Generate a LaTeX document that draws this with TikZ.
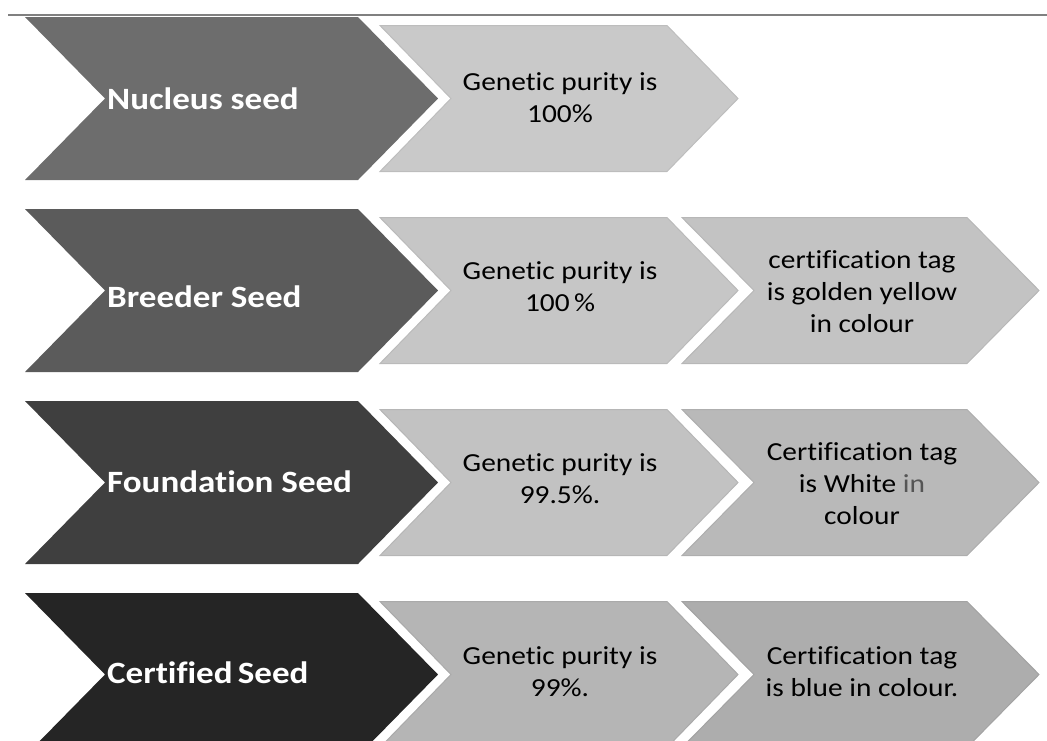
\documentclass[tikz,border=0pt]{standalone}
\usepackage{fontspec}
\setmainfont{Carlito}[FakeStretch=1.13, Ligatures=CommonOff]
\usetikzlibrary{calc}
\definecolor{dA}{HTML}{6D6D6D}
\definecolor{dB}{HTML}{5B5B5B}
\definecolor{dC}{HTML}{3F3F3F}
\definecolor{dD}{HTML}{252525}
\definecolor{lA}{HTML}{C9C9C9}
\definecolor{lB}{HTML}{C6C6C6}
\definecolor{lBB}{HTML}{C3C3C3}
\definecolor{lC}{HTML}{C2C2C2}
\definecolor{lCC}{HTML}{B9B9B9}
\definecolor{lD}{HTML}{B5B5B5}
\definecolor{lDD}{HTML}{ADADAD}
\definecolor{rule}{HTML}{808080}
\definecolor{inGray}{HTML}{555555}
% \chevron{x}{ytop}{width}{height}{depth}{style}
\newcommand{\chevron}[6]{%
  \path[#6] (#1,#2) -- ++(#3,0) -- ++(#5,#4/2) -- ++(-#5,#4/2) -- ++(-#3,0) -- ++(#5,-#4/2) -- cycle;}
\tikzset{
  darkchev/.style={fill=#1},
  lightchev/.style={fill=#1, draw=#1!94!black, line width=1pt, line join=miter},
  seedlabel/.style={anchor=base west, inner sep=0pt, text=white,
    font=\fontsize{31}{37}\selectfont\bfseries},
  infolabel/.style={anchor=center, inner sep=0pt, align=center, text=black,
    font=\fontsize{26}{32}\selectfont}
}
\begin{document}
\begin{tikzpicture}[x=1pt,y=-1pt]
\useasboundingbox (0,0) rectangle (1047,740);
\clip (0,0) rectangle (1047,740);
\draw[rule, line width=2pt] (8,15) -- (1047,15);
% row 1
\chevron{25}{17}{333}{163}{80}{darkchev=dA}
\chevron{380}{25.5}{287}{146}{71}{lightchev=lA}
\node[seedlabel] (s1) at (107,109) {Nucleus seed};
\node[infolabel] (p1) at (560,98) {Genetic purity is\\100\%};
% row 2
\chevron{25}{209}{333}{163}{80}{darkchev=dB}
\chevron{380}{217.5}{287}{146}{71}{lightchev=lB}
\chevron{682}{217.5}{285}{146}{72}{lightchev=lBB}
\node[seedlabel] (s2) at (107,307) {Breeder Seed};
\node[infolabel] (p2) at (560,287) {Genetic purity is\\100\,\%};
\node[infolabel] (t2) at (862,292) {certification tag\\is golden yellow\\in colour};
% row 3
\chevron{25}{401}{333}{163}{80}{darkchev=dC}
\chevron{380}{409.5}{287}{146}{71}{lightchev=lC}
\chevron{682}{409.5}{285}{146}{72}{lightchev=lCC}
\node[seedlabel] (s3) at (107,492) {Foundation Seed};
\node[infolabel] (p3) at (560,479) {Genetic purity is\\99.5\%.};
\node[infolabel] (t3) at (862,484) {Certification tag\\is White {\color{inGray}in}\\colour};
% row 4
\chevron{25}{593}{333}{163}{80}{darkchev=dD}
\chevron{380}{601.5}{287}{146}{71}{lightchev=lD}
\chevron{682}{601.5}{285}{146}{72}{lightchev=lDD}
\node[seedlabel] (s4) at (107,683) {Certified\,Seed};
\node[infolabel] (p4) at (560,672) {Genetic purity is\\99\%.};
\node[infolabel] (t4) at (862,672) {Certification tag\\is blue in colour.};
\end{tikzpicture}
\end{document}
